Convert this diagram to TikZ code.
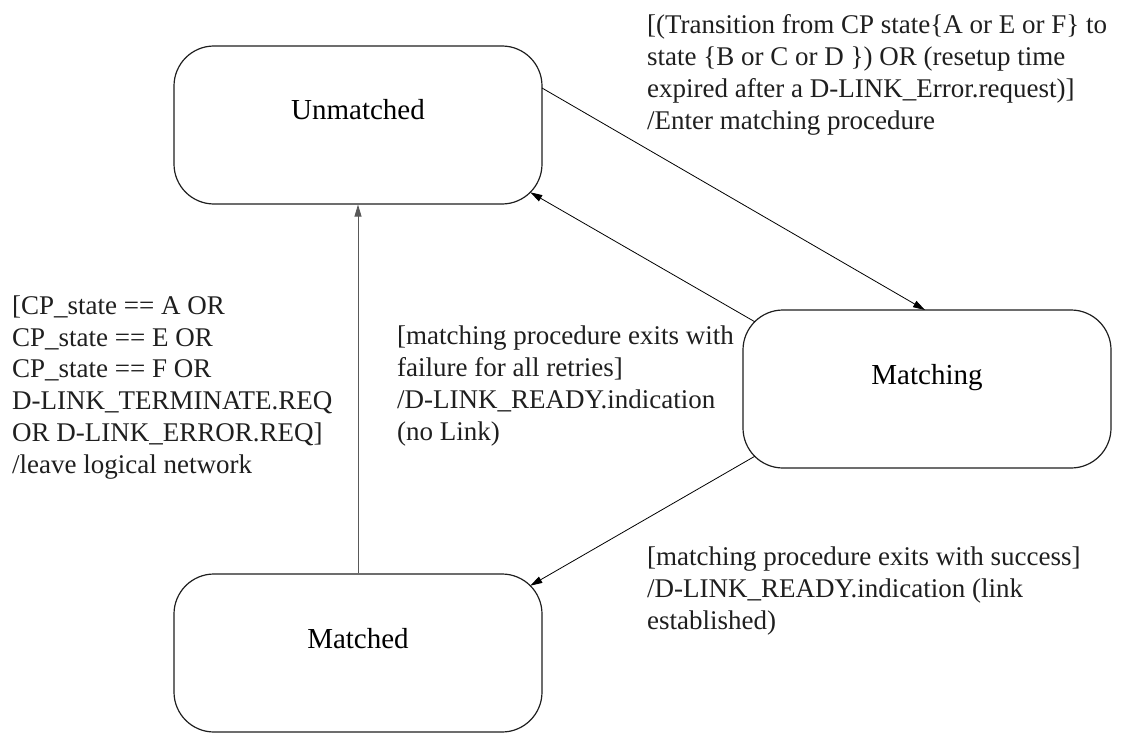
\documentclass[tikz,border=0pt]{standalone}
\usepackage{fontspec}
\setmainfont{Liberation Serif}
\usetikzlibrary{arrows.meta}
\begin{document}
\begin{tikzpicture}[x=1pt,y=-1pt,
  statebox/.style={draw=black!88, line width=1.2pt, rounded corners=40pt,
    minimum width=368pt, minimum height=158pt, inner sep=0pt,
    font=\fontsize{29}{34}\selectfont, text height=20pt, text depth=30pt},
  trans/.style={line width=0.8pt, -{Triangle[length=12pt,width=7pt]}},
  lbl/.style={anchor=base west, inner sep=0pt, align=left,
    font=\fontsize{27}{31.7}\selectfont, text=black!88}]
\useasboundingbox (0,0) rectangle (1132,733);
\node[statebox] (U) at (358,125) {Unmatched};
\node[statebox] (M) at (927,389) {Matching};
\node[statebox] (D) at (358,653) {Matched};
\draw[trans] ([shift={(184,-37)}]U.center) -- ([shift={(-2,-79)}]M.center);
\draw[trans] ([shift={(-172.3,-67.3)}]M.center) -- ([shift={(172.3,67.3)}]U.center);
\draw[trans] ([shift={(-172.3,67.3)}]M.center) -- ([shift={(172.3,-67.3)}]D.center);
\draw[trans, black!65] (D.north) -- (U.south);
\node[lbl] (tA) at (647,129) {[(Transition from CP state\{A or E or F\} to\\state \{B or C or D \}) OR (resetup time\\expired after a D-LINK\_Error.request)]\\/Enter matching procedure};
\node[lbl] (tL) at (12,473) {[CP\_state == A OR\\CP\_state == E OR\\CP\_state == F OR\\D-LINK\_TERMINATE.REQ\\OR D-LINK\_ERROR.REQ]\\/leave logical network};
\node[lbl] (tM) at (397,440) {[matching procedure exits with\\failure for all retries]\\/D-LINK\_READY.indication\\(no Link)};
\node[lbl] (tS) at (647,629) {[matching procedure exits with success]\\/D-LINK\_READY.indication (link\\established)};
\end{tikzpicture}
\end{document}
